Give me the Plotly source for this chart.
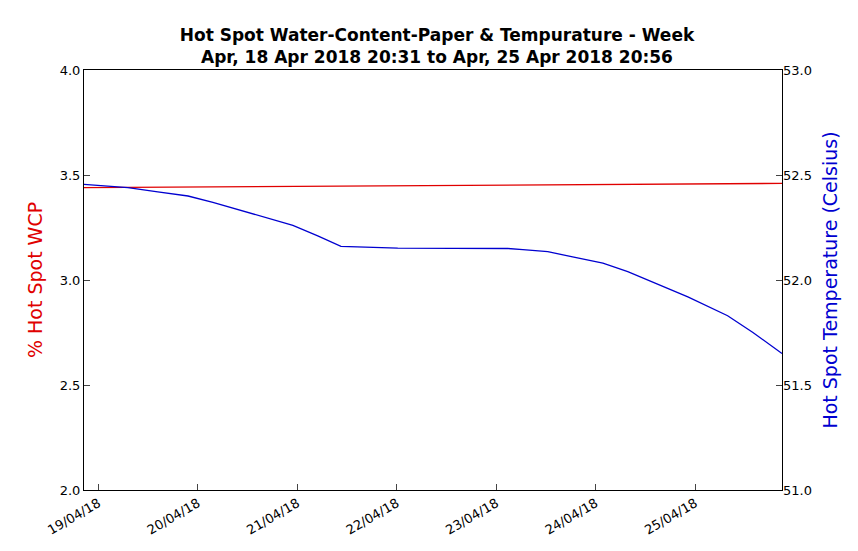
import plotly.graph_objects as go

wcp_time = ["2018-04-18 20:31", "2018-04-25 20:56"]
wcp_vals = [3.44, 3.46]

temp_time = ["2018-04-18 20:31", "2018-04-19 07:07", "2018-04-19 14:19", "2018-04-19 21:37",
             "2018-04-20 03:37", "2018-04-20 12:07", "2018-04-20 22:55", "2018-04-21 04:55",
             "2018-04-21 10:31", "2018-04-22 00:13", "2018-04-22 14:43", "2018-04-23 02:49",
             "2018-04-23 06:25", "2018-04-23 12:25", "2018-04-23 18:25", "2018-04-24 01:43",
             "2018-04-24 07:43", "2018-04-24 14:55", "2018-04-24 22:13", "2018-04-25 07:49",
             "2018-04-25 13:55", "2018-04-25 20:56"]
temp_vals = [52.455, 52.44, 52.42, 52.40, 52.37, 52.32, 52.26, 52.21, 52.16, 52.152, 52.15, 52.15,
             52.145, 52.135, 52.11, 52.08, 52.04, 51.98, 51.92, 51.83, 51.75, 51.65]

tick_vals = ["2018-04-19", "2018-04-20", "2018-04-21", "2018-04-22", "2018-04-23", "2018-04-24", "2018-04-25"]
tick_text = ["19/04/18", "20/04/18", "21/04/18", "22/04/18", "23/04/18", "24/04/18", "25/04/18"]

fig = go.Figure()
fig.add_trace(go.Scatter(x=wcp_time, y=wcp_vals, mode="lines", line=dict(color="#e00000", width=1.3)))
fig.add_trace(go.Scatter(x=temp_time, y=temp_vals, mode="lines", line=dict(color="#0000d0", width=1.3), yaxis="y2"))

fnt = dict(family="DejaVu Sans", size=13, color="black")
fig.update_layout(
    width=858, height=551, showlegend=False, plot_bgcolor="white", paper_bgcolor="white",
    margin=dict(l=76, r=84, t=62, b=69, autoexpand=False), font=fnt,
    title=dict(text="<b>Hot Spot Water-Content-Paper & Tempurature - Week<br>Apr, 18 Apr 2018 20:31 to Apr, 25 Apr 2018 20:56</b>",
               x=0.5, xanchor="center", y=1 - 33 / 551, yanchor="middle", font=dict(family="DejaVu Sans", size=17)),
    xaxis=dict(range=["2018-04-18 20:31", "2018-04-25 20:56"], tickvals=tick_vals, ticktext=tick_text,
               tickangle=-30, ticks="inside", ticklen=6, showgrid=False, showline=True, linecolor="black",
               mirror=True, zeroline=False, automargin=False),
    yaxis=dict(range=[2, 4], dtick=0.5, tickformat=".1f", ticks="inside", ticklen=6, showgrid=False,
               showline=True, linecolor="black", mirror=True, zeroline=False, automargin=False,
               title=dict(text="% Hot Spot WCP", standoff=12, font=dict(color="#e00000", size=19, family="DejaVu Sans"))),
    yaxis2=dict(range=[51, 53], dtick=0.5, tickformat=".1f", ticks="inside", ticklen=6, showgrid=False,
                overlaying="y", side="right", zeroline=False, automargin=False,
                title=dict(text="Hot Spot Temperature (Celsius)", standoff=12, font=dict(color="#0000d0", size=19, family="DejaVu Sans"))),
)
fig.write_html("out.html")
